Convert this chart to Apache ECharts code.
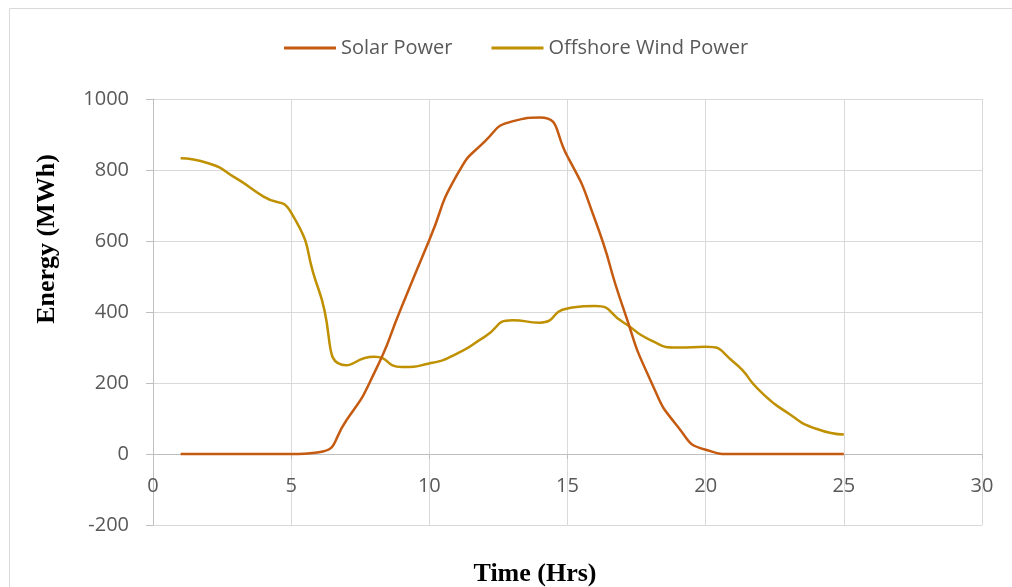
<!DOCTYPE html>
<html>
<head>
<meta charset="utf-8">
<script src="https://cdn.jsdelivr.net/npm/echarts@6/dist/echarts.min.js"></script>
<style>
  html, body { margin: 0; padding: 0; background: #fff; }
  #chart { width: 1012px; height: 587px; }
</style>
</head>
<body>
<div id="chart"></div>
<script>
// Hourly energy output (MWh)
const hours = [1, 2, 3, 4, 5, 6, 7, 8, 9, 10, 11, 12, 13, 14, 15, 16, 17, 18, 19, 20, 21, 22, 23, 24, 25];
const solarPower = [0, 0, 0, 0, 0, 5, 95, 227, 415, 603, 786, 880, 937, 948, 838, 659, 415, 208, 76, 12, 0, 0, 0, 0, 0];
const offshoreWindPower = [833, 819, 777, 725, 680, 462, 250, 274, 245, 255, 283, 330, 377, 370, 410, 417, 372, 321, 300, 302, 260, 175, 114, 71, 55];

const seriesNames = ['Solar Power', 'Offshore Wind Power'];
const seriesColors = ['#C55A11', '#BF9000'];
const xTitle = 'Time (Hrs)';
const yTitle = 'Energy (MWh)';

const yMin = -200;
const yMax = 1000;

const toPairs = (ys) => hours.map((h, i) => [h, ys[i]]);

const labelFont = '"Open Sans", "Liberation Sans", sans-serif';
const titleFont = '"Liberation Serif", "DejaVu Serif", serif';

const W = 1012, H = 587;
const gridTop = 99, gridBottom = 62;
// lift the x axis from the bottom edge up to the y = 0 line
const plotH = H - gridTop - gridBottom;
const xAxisOffset = -plotH * (0 - yMin) / (yMax - yMin);

const chart = echarts.init(document.getElementById('chart'), null, { renderer: 'canvas' });

chart.setOption({
  animation: false,
  backgroundColor: '#ffffff',
  color: seriesColors,
  grid: { left: 153, right: 30, top: gridTop, bottom: gridBottom },
  legend: {
    data: seriesNames,
    left: 279,
    top: 33,
    icon: 'rect',
    itemWidth: 52,
    itemHeight: 3,
    itemGap: 39,
    textStyle: { color: '#595959', fontSize: 20, fontFamily: labelFont }
  },
  xAxis: {
    type: 'value',
    min: 0,
    max: 30,
    interval: 5,
    offset: xAxisOffset,
    axisLine: { show: true, onZero: false, lineStyle: { color: '#bfbfbf', width: 1 } },
    axisTick: { show: true, length: 5, lineStyle: { color: '#bfbfbf' } },
    axisLabel: { color: '#595959', fontSize: 20, fontFamily: labelFont, margin: 22 },
    splitLine: { show: true, lineStyle: { color: '#d9d9d9', width: 1 } }
  },
  yAxis: {
    type: 'value',
    min: yMin,
    max: yMax,
    interval: 200,
    axisLine: { show: true, onZero: false, lineStyle: { color: '#bfbfbf', width: 1 } },
    axisTick: { show: true, length: 7, lineStyle: { color: '#bfbfbf' } },
    axisLabel: {
      color: '#595959', fontSize: 20, fontFamily: labelFont, margin: 24,
      formatter: (v) => String(v)
    },
    splitLine: { show: true, lineStyle: { color: '#d9d9d9', width: 1 } }
  },
  graphic: [
    {
      type: 'rect',
      shape: { x: 9.5, y: 8.5, width: 1010, height: 600 },
      style: { fill: 'none', stroke: '#d9d9d9', lineWidth: 1 },
      silent: true,
      z: -10
    },
    {
      type: 'text',
      x: 535,
      y: 574,
      style: {
        text: xTitle,
        font: 'bold 26px ' + titleFont,
        fill: '#000000',
        textAlign: 'center',
        textVerticalAlign: 'middle'
      }
    },
    {
      type: 'text',
      x: 47,
      y: 239,
      rotation: Math.PI / 2,
      style: {
        text: yTitle,
        font: 'bold 26px ' + titleFont,
        fill: '#000000',
        textAlign: 'center',
        textVerticalAlign: 'middle'
      }
    }
  ],
  series: [
    {
      name: seriesNames[0],
      type: 'line',
      data: toPairs(solarPower),
      smooth: 0.6,
      showSymbol: false,
      lineStyle: { width: 2.5, color: seriesColors[0] },
      z: 3
    },
    {
      name: seriesNames[1],
      type: 'line',
      data: toPairs(offshoreWindPower),
      smooth: 0.6,
      showSymbol: false,
      lineStyle: { width: 2.5, color: seriesColors[1] },
      z: 2
    }
  ]
});
</script>
</body>
</html>
